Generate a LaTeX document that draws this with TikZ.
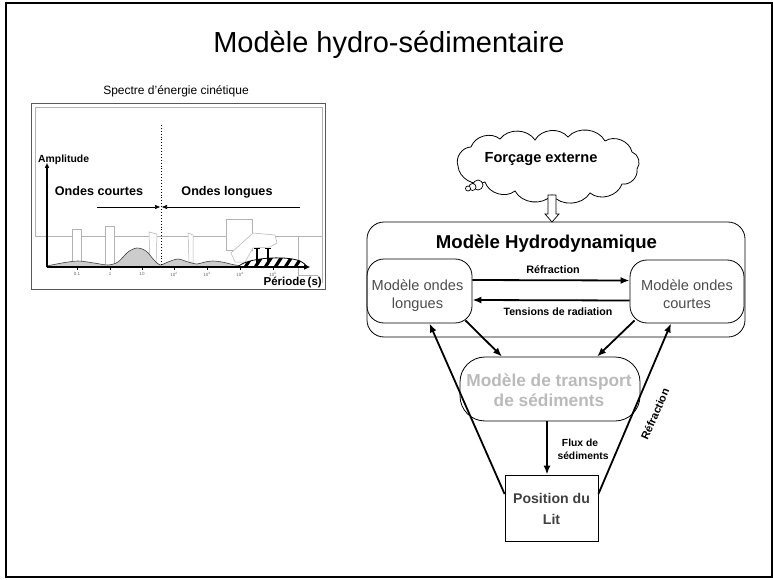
\documentclass[tikz,border=0pt]{standalone}
\usepackage{fontspec}
\setmainfont{Liberation Sans}
\usetikzlibrary{arrows.meta,calc}
\newcommand\fsz[2]{\fontsize{#1}{#2}\selectfont}

\begin{document}
\begin{tikzpicture}[x=1pt,y=-1pt,
  lbl/.style={inner sep=0pt, anchor=base},
  rbox/.style={draw, line width=0.8pt, rounded corners=17pt, inner sep=0pt},
  conn/.style={line width=1.8pt, -{Latex[length=9pt,width=7pt]}},
  thinbox/.style={fill=white, draw=gray!60, line width=0.5pt},
  smallarrow/.style={-{Triangle[length=5pt,width=4pt]}},
  wavetxt/.style={lbl, text=black!70, font=\fsz{14.6}{18}},
  sedtxt/.style={lbl, text=black!27, font=\bfseries\fsz{17.3}{20}},
  postxt/.style={lbl, text=black!75, font=\bfseries\fsz{14.1}{20}},
  ticklbl/.style={inner sep=0pt, font=\fsz{4.5}{5}, text=black!60}]

\useasboundingbox (0,0) rectangle (773,580);
% page frame
\draw[line width=2.2pt] (6,3) rectangle (772,577);

% title
\node[lbl, font=\fsz{29}{34}] (title) at (389,53) {Modèle hydro-sédimentaire};

% ---------------- kinetic energy spectrum ----------------
\node[lbl, font=\fsz{12}{14}] (spcap) at (176,95) {Spectre d’énergie cinétique};
\draw[black!65, line width=0.9pt] (31,103) rectangle (325,289);
\draw[gray!60, line width=0.6pt] (35,107) rectangle (322,236);
\draw[gray!60, line width=0.6pt] (298,236) -- (298,275) -- (318,275);
\draw[gray!60, line width=0.6pt] (322,236) -- (322,283);

% white bands
\filldraw[thinbox] (72,229) rectangle (81,267);
\filldraw[thinbox] (105,226) rectangle (114,267);
\filldraw[thinbox] (149,232) -- (157,234) -- (156,266) -- (150,266) -- cycle;
\filldraw[thinbox] (188,233) -- (193,235) -- (193,262) -- (189,262) -- cycle;
\filldraw[thinbox] (226,219) rectangle (252,250);
\filldraw[thinbox] (231,253) -- (253,233) -- (275,235) -- (277,243) -- (270,247)
  -- (253,248) -- (245,262) -- (235,262) -- cycle;

% energy humps
\filldraw[fill=gray!40, draw=black!75, line width=0.6pt]
  (47,267) -- plot[smooth] coordinates {(47,266) (62,263) (78,261) (94,263) (108,265)
  (118,262) (128,252) (137,248) (146,251) (154,260) (160,265) (168,262) (178,259)
  (188,262) (197,264) (205,262) (213,261) (222,262) (235,265) (245,266)}
  -- (245,267) -- cycle;

% striped tidal blob
\begin{scope}
  \clip (238,267) .. controls (245,258) and (285,255) .. (300,261)
        .. controls (305,264) .. (307,267) -- cycle;
  \fill[white] (230,250) rectangle (310,270);
  \foreach \x in {234,244,...,304}
    \draw[line width=3.2pt] (\x,269) -- (\x+9,255);
\end{scope}
\draw[line width=0.8pt] (238,267) .. controls (245,258) and (285,255) .. (300,261)
        .. controls (305,264) .. (307,267);
\draw[line width=2pt] (257,248) -- (257,265);
\draw[line width=2pt] (268,248) -- (268,265);
\draw[line width=0.6pt] (254,248) -- (260,248);
\draw[line width=0.6pt] (265,248) -- (271,248);

% axes
\draw[line width=1.3pt, smallarrow] (47,267) -- (47,163);
\draw[line width=1.3pt, -{Triangle[length=6pt,width=5pt]}] (47,267) -- (310,267);
\foreach \x in {77,110,142,174,207,240,273}
  \draw[line width=0.4pt] (\x,267) -- (\x,270);
\node[ticklbl] (t1) at (77,274) {0.1};
\node[ticklbl] (t2) at (110,274) {1};
\node[ticklbl] (t3) at (142,274) {10};
\node[ticklbl] (t4) at (174,274) {10\textsuperscript{2}};
\node[ticklbl] (t5) at (207,274) {10\textsuperscript{3}};
\node[ticklbl] (t6) at (240,274) {10\textsuperscript{4}};
\node[ticklbl] (t7) at (273,274) {10\textsuperscript{5}};

% short / long wave split
\draw[dotted, line width=0.9pt] (161,125) -- (161,267);
\draw[line width=0.6pt, smallarrow] (97,207) -- (160,207);
\draw[line width=0.6pt, smallarrow] (300,207) -- (162,207);

\node[lbl, anchor=base west, font=\bfseries\fsz{10.4}{12}] (ampl) at (38,162.5) {Amplitude};
\node[lbl, font=\bfseries\fsz{12.6}{15}] (oc) at (99,196) {Ondes courtes};
\node[lbl, font=\bfseries\fsz{12.6}{15}] (ol) at (227,196) {Ondes longues};
\node[lbl, anchor=base east, font=\bfseries\fsz{11.5}{13}] (per) at (322,285) {Période\,(s)};

% ---------------- model chain ----------------
% forcing cloud
\draw[line width=0.8pt, fill=white]
  (458,166) to[bend left=55] (471,147) to[bend left=55] (500,139)
  to[bend left=55] (535,140) to[bend left=55] (568,137) to[bend left=55] (605,141)
  to[bend left=55] (632,152) to[bend left=55] (637,169) to[bend left=55] (622,184)
  to[bend left=55] (590,193) to[bend left=55] (552,195) to[bend left=55] (515,191)
  to[bend left=55] (485,182) to[bend left=55] cycle;
\coordinate (cloud) at (552,195);
\node[lbl, font=\bfseries\fsz{14.6}{17}] (cloudtxt) at (541,163) {Forçage externe};
\draw[line width=0.7pt, fill=white] (478,185) circle[radius=5pt];
\draw[line width=0.7pt, fill=white] (472.5,187) circle[radius=3.5pt];
\draw[line width=0.7pt, fill=white] (468,188.5) circle[radius=2.5pt];

\node[draw, line width=0.8pt, rounded corners=17pt, minimum width=378pt, minimum height=115pt,
      inner sep=0pt] (hydro) at (556,279.5) {};
\node[lbl, font=\bfseries\fsz{18.6}{22}] (hydrotitle) at (546.5,248) {Modèle Hydrodynamique};

% hollow forcing arrow
\draw[line width=0.7pt, fill=white] ([xshift=-4pt]cloud) -- ([xshift=4pt]cloud)
  -- (556,214) -- (559,214) -- (552,222) -- (545,214) -- (548,214) -- cycle;

% wave models
\node[rbox, minimum width=105pt, minimum height=64pt] (longues) at (419.5,291) {};
\node[wavetxt] (longuesA) at (417.5,290) {Modèle ondes};
\node[wavetxt] (longuesB) at (417.5,308) {longues};
\node[rbox, minimum width=114pt, minimum height=63pt] (courtes) at (687,291.5) {};
\node[wavetxt] (courtesA) at (687,290) {Modèle ondes};
\node[wavetxt] (courtesB) at (687,308) {courtes};

% sediment transport model
\node[rbox, rounded corners=25pt, minimum width=180pt, minimum height=64pt] (sed) at (550,389) {};
\node[sedtxt] (sedA) at (549,386) {Modèle de transport};
\node[sedtxt] (sedB) at (549,406) {de sédiments};

% bed position
\node[draw, line width=0.8pt, minimum width=93pt, minimum height=66pt, inner sep=0pt] (pos) at (551.5,508) {};
\node[postxt] (posA) at (551.5,503) {Position du};
\node[postxt] (posB) at (551.5,524) {Lit};

% connectors
\draw[conn] ([yshift=11pt]longues.east) -- ([yshift=11pt]courtes.west);
\draw[conn] ([yshift=-9pt]courtes.west) -- ([yshift=-9pt]longues.east);
\draw[conn] ([xshift=-7pt,yshift=3pt]longues.south east) -- ([xshift=-48pt]sed.north);
\draw[conn] ([xshift=5pt,yshift=3pt]courtes.south west) -- ([xshift=47pt]sed.north);
\draw[conn] ([xshift=-3pt]sed.south) -- ([xshift=-4.5pt]pos.north);
\draw[conn] ([yshift=14pt]pos.west) -- ([xshift=10pt]longues.south);
\draw[conn] ([yshift=14pt]pos.east) -- ([xshift=-16pt]courtes.south);

% connector labels
\node[lbl, font=\bfseries\fsz{10.8}{13}] (refr1) at (553,273) {Réfraction};
\node[lbl, font=\bfseries\fsz{10.6}{13}] (tens) at (558,315) {Tensions de radiation};
\node[lbl, font=\bfseries\fsz{10.3}{13}] (fluxA) at (580,446) {Flux de};
\node[lbl, font=\bfseries\fsz{10.3}{13}] (fluxB) at (583,459) {sédiments};
\node[font=\bfseries\fsz{11}{13}, rotate=66, inner sep=0pt] (refr2) at (655,414) {Réfraction};
\end{tikzpicture}
\end{document}
